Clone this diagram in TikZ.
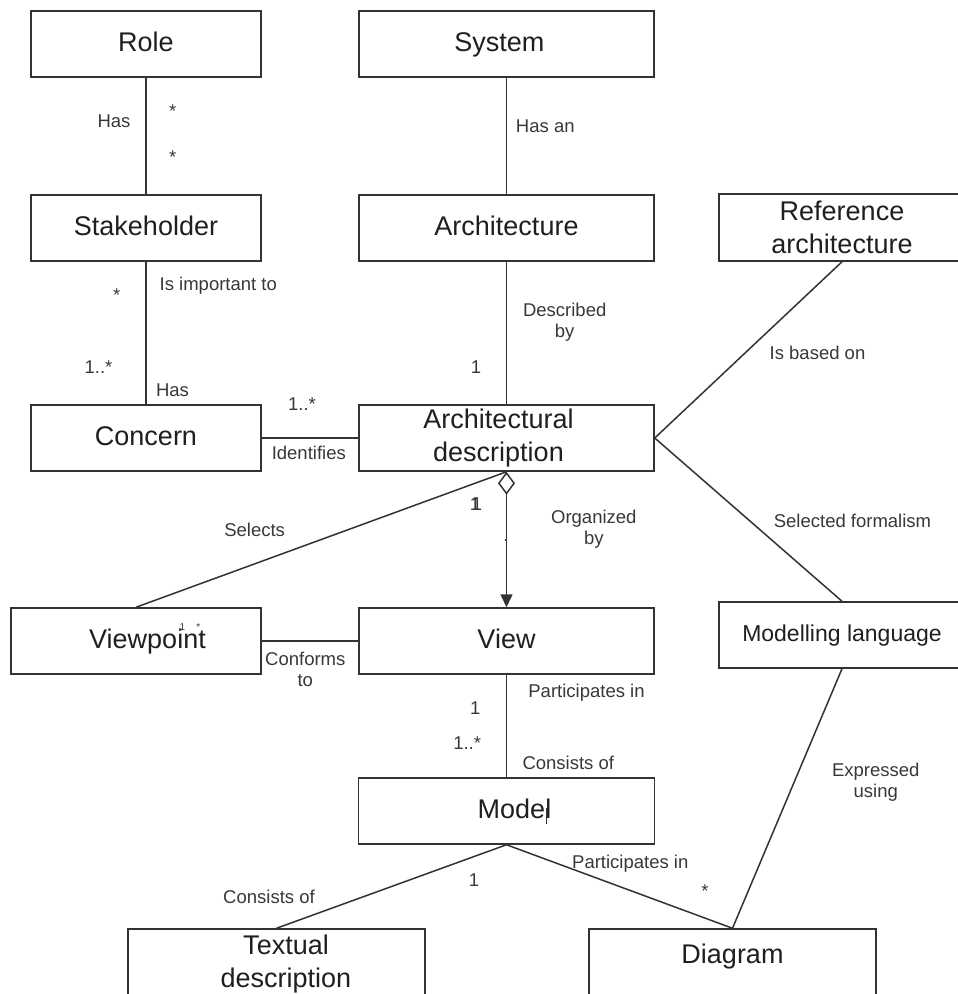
\documentclass[tikz,border=0pt]{standalone}
\usepackage{fontspec}
\setmainfont{Liberation Sans}
\usetikzlibrary{arrows.meta}
\newcommand\clsfont{\fontsize{27}{33}\selectfont}
\newcommand\mlfont{\fontsize{23}{28}\selectfont}
\newcommand\assocfont{\fontsize{18.5}{21}\selectfont}
\newcommand\vpfont{\fontsize{10}{12}\selectfont}

\begin{document}
\begin{tikzpicture}[x=1pt,y=-1pt,
  cls/.style={draw=black!80, line width=1.5pt, fill=white, inner sep=0pt,
              minimum height=66pt, align=center, font=\clsfont, text=black!88},
  clstext/.style={font=\clsfont, text=black!88, inner sep=0pt, align=center},
  oneline/.style={text height=19.7pt, text depth=5.7pt},
  lbl/.style={font=\assocfont, text=black!78, inner sep=0pt, align=center},
  assoc/.style={draw=black!80, line width=1.5pt},
]
\useasboundingbox (0,0) rectangle (958,994);
\fill[white] (0,0) rectangle (958,994);

% classes
\node[cls,oneline,minimum width=230pt] (role) at (146,44) {Role};
\node[cls,minimum width=295pt] (system) at (506.5,44) {};
\node[clstext,oneline] (systemname) at (499.3,44) {System};
\node[cls,oneline,minimum width=230pt] (stakeholder) at (146,228) {Stakeholder};
\node[cls,oneline,minimum width=295pt] (architecture) at (506.5,228) {Architecture};
\node[cls,minimum width=246pt,minimum height=67pt] (refarch) at (842,227.5) {Reference\\architecture};
\node[cls,oneline,minimum width=230pt] (concern) at (146,438) {Concern};
\node[cls,minimum width=295pt] (archdesc) at (506.5,438) {};
\node[clstext] (archdescname) at (498.5,438.5) {Architectural\\description};
\node[cls,minimum width=250pt] (viewpoint) at (136,641) {};
\node[clstext,oneline] (viewpointname) at (147.5,641.3) {Viewpoint};
\node[cls,oneline,minimum width=295pt] (view) at (506.5,641) {View};
\node[cls,minimum width=246pt,font=\mlfont,text height=16.8pt,text depth=4.8pt] (modlang) at (842,635) {Modelling language};
\node[cls,minimum width=296pt] (model) at (506.5,811) {};
\node[clstext,oneline] (modelname) at (514.5,811) {Model};
\node[cls,minimum width=297pt] (textual) at (276.5,962) {};
\node[clstext] (textualname) at (286,964) {Textual\\description};
\node[cls,minimum width=287pt] (diagram) at (732.5,962) {};
\node[clstext,oneline] (diagramname) at (732.5,956) {Diagram};

% associations
\draw[assoc] (role) -- (stakeholder);
\draw[assoc] (system) -- (architecture);
\draw[assoc] (stakeholder) -- (concern);
\draw[assoc] (architecture) -- (archdesc);
\draw[assoc] (concern) -- (archdesc);
\draw[assoc] (refarch.south) -- (archdesc.east);
\draw[assoc] (archdesc.east) -- (modlang.north);
\draw[assoc] (archdesc.south) -- (viewpoint.north);
\draw[assoc,{Diamond[open,length=23pt,width=17pt]}-{Triangle[length=13pt,width=12pt]}]
  (archdesc.south) -- (view.north);
\draw[assoc] (viewpoint) -- (view);
\draw[assoc] (view) -- (model);
\draw[assoc] (model.south) -- (textual.north);
\draw[assoc] (model.south) -- (diagram.north);
\draw[assoc] (modlang.south) -- (diagram.north);

% stray caret mark in the Model box
\draw[black!80,line width=1pt] (546,808) -- (546,824);

% role names and multiplicities
\node[lbl] (hasrole) at (114,121.7) {Has};
\node[lbl] (rolemulta) at (172.7,110.7) {*};
\node[lbl] (rolemultb) at (172.7,157.3) {*};
\node[lbl] (hasan) at (545.3,125.8) {Has an};
\node[lbl] (important) at (218.3,285.5) {Is important to};
\node[lbl] (stakemult) at (116.7,295) {*};
\node[lbl] (concernmult) at (98.5,367) {1..*};
\node[lbl] (hasconcern) at (172.5,390) {Has};
\node[lbl] (describedby) at (564.7,322) {Described\\by};
\node[lbl] (descmult) at (476,367) {1};
\node[lbl] (idmult) at (302,403.7) {1..*};
\node[lbl] (identifies) at (308.8,453.2) {Identifies};
\node[lbl] (basedon) at (817.5,352.8) {Is based on};
\node[lbl] (formalism) at (852.5,520.5) {Selected formalism};
\node[lbl] (selects) at (254.6,530) {Selects};
\node[lbl] (organized) at (593.8,528.8) {Organized\\by};
\node[lbl] (selmult) at (475,504) {1};
\node[lbl] (orgmult) at (477,504) {1};
\node[lbl] (orgdot) at (506,540.7) {.};
\node[lbl] (conforms) at (305.3,669.2) {Conforms\\to};
\node[font=\vpfont,text=black!78,anchor=base west,inner sep=0pt] (vpmult) at (179.5,630.7) {1\hspace{11pt}*};
\node[lbl] (partview) at (586.5,692.8) {Participates in};
\node[lbl] (viewmult) at (475.3,708.3) {1};
\node[lbl] (modelmult) at (467.2,743) {1..*};
\node[lbl] (consistsview) at (568.3,762.5) {Consists of};
\node[lbl] (consiststext) at (269,896.5) {Consists of};
\node[lbl] (textmult) at (474,880) {1};
\node[lbl] (partdiag) at (630.3,864) {Participates in};
\node[lbl] (diagmult) at (705,890.7) {*};
\node[lbl] (expressed) at (875.8,782.2) {Expressed\\using};
\end{tikzpicture}
\end{document}
